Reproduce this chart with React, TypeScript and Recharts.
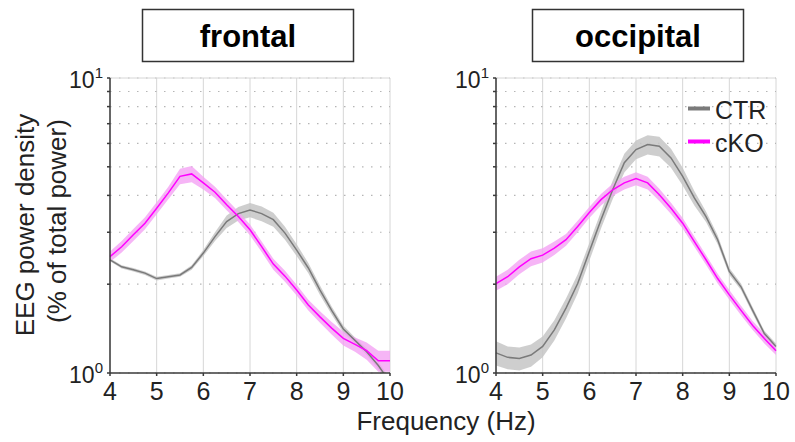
import React from 'react';
import { ComposedChart, Line, Area, XAxis, YAxis, CartesianGrid, ReferenceLine } from 'recharts';

const FREQ = [4, 4.25, 4.5, 4.75, 5, 5.25, 5.5, 5.75, 6, 6.25, 6.5, 6.75, 7, 7.25, 7.5, 7.75, 8, 8.25, 8.5, 8.75, 9, 9.25, 9.5, 9.75, 10];
const X_TICKS = [4, 5, 6, 7, 8, 9, 10];
const Y_TICKS = [1, 2, 3, 4, 5, 6, 7, 8, 9, 10];

const FRONTAL_CTR = [2.42, 2.29, 2.24, 2.18, 2.09, 2.12, 2.15, 2.28, 2.55, 2.9, 3.26, 3.47, 3.57, 3.47, 3.31, 2.98, 2.61, 2.27, 1.91, 1.63, 1.41, 1.29, 1.18, 1.06, 0.93];
const FRONTAL_CTR_SEM = [0.03, 0.03, 0.03, 0.03, 0.03, 0.03, 0.03, 0.04, 0.06, 0.1, 0.16, 0.18, 0.2, 0.2, 0.18, 0.15, 0.12, 0.09, 0.07, 0.05, 0.04, 0.03, 0.03, 0.03, 0.03];
const FRONTAL_CKO = [2.48, 2.68, 2.94, 3.22, 3.62, 4.08, 4.64, 4.73, 4.41, 4.1, 3.72, 3.39, 3.06, 2.68, 2.34, 2.13, 1.91, 1.7, 1.55, 1.42, 1.31, 1.25, 1.19, 1.1, 1.1];
const FRONTAL_CKO_SEM = [0.1, 0.12, 0.14, 0.15, 0.17, 0.2, 0.28, 0.3, 0.22, 0.18, 0.16, 0.14, 0.13, 0.11, 0.1, 0.09, 0.08, 0.07, 0.07, 0.07, 0.07, 0.07, 0.08, 0.09, 0.09];

const OCC_CTR = [1.17, 1.13, 1.12, 1.15, 1.23, 1.4, 1.66, 2.01, 2.58, 3.31, 4.18, 5.16, 5.72, 5.95, 5.87, 5.36, 4.64, 3.92, 3.39, 2.83, 2.21, 1.96, 1.63, 1.36, 1.23];
const OCC_CTR_SEM = [0.11, 0.1, 0.1, 0.1, 0.1, 0.11, 0.13, 0.15, 0.18, 0.22, 0.3, 0.38, 0.42, 0.45, 0.45, 0.4, 0.32, 0.22, 0.14, 0.1, 0.06, 0.05, 0.04, 0.03, 0.03];
const OCC_CKO = [2.01, 2.12, 2.29, 2.44, 2.51, 2.65, 2.83, 3.14, 3.5, 3.87, 4.18, 4.41, 4.56, 4.41, 4.02, 3.62, 3.22, 2.79, 2.42, 2.09, 1.84, 1.63, 1.45, 1.31, 1.19];
const OCC_CKO_SEM = [0.11, 0.12, 0.13, 0.14, 0.14, 0.14, 0.13, 0.14, 0.15, 0.17, 0.2, 0.22, 0.23, 0.22, 0.19, 0.16, 0.13, 0.11, 0.09, 0.08, 0.07, 0.06, 0.05, 0.05, 0.04];

const SERIES_NAMES = ['CTR', 'cKO'];
const PANEL_TITLES = ['frontal', 'occipital'];
const X_TITLE = 'Frequency (Hz)';
const Y_TITLE_1 = 'EEG power density';
const Y_TITLE_2 = '(% of total power)';

const FONT = '"Liberation Sans", Arial, Helvetica, sans-serif';
const CTR_COLOR = '#7a7a7a';
const CTR_BAND = '#c6c6c6';
const CKO_COLOR = '#ff00ff';
const CKO_BAND = '#f4a3f4';
const AXIS_COLOR = '#3a3a3a';
const TEXT_COLOR = '#222';

function buildRows(ctr: number[], ctrSem: number[], cko: number[], ckoSem: number[]) {
  return FREQ.map((f, i) => ({
    f,
    ctr: ctr[i],
    ctrBand: [ctr[i] - ctrSem[i], ctr[i] + ctrSem[i]],
    cko: cko[i],
    ckoBand: [cko[i] - ckoSem[i], cko[i] + ckoSem[i]],
  }));
}

const XTick = (props: any) => {
  const { x, y, payload } = props;
  return (
    <text x={x} y={y + 24} textAnchor="middle" fontSize={25} fontFamily={FONT} fill={TEXT_COLOR}>
      {payload.value}
    </text>
  );
};

const YTick = (props: any) => {
  const { x, y, payload } = props;
  const v = payload.value;
  if (v !== 1 && v !== 10) return <g />;
  const exp = v === 10 ? '1' : '0';
  return (
    <text x={x - 4} y={y + 10} textAnchor="end" fontSize={23} fontFamily={FONT} fill={TEXT_COLOR}>
      10
      <tspan fontSize={15} dy={-10}>{exp}</tspan>
    </text>
  );
};

function Panel({ rows, left, width, marginLeft, marginRight }: any) {
  return (
    <div style={{ position: 'absolute', left, top: 0 }}>
      <ComposedChart
        width={width}
        height={442}
        data={rows}
        margin={{ top: 78, right: marginRight, bottom: 39, left: marginLeft }}
      >
        <CartesianGrid horizontal={false} stroke="#d6d6d6" strokeWidth={1} />
        <CartesianGrid vertical={false} stroke="#b5b5b5" strokeDasharray="1.5 7.5" strokeWidth={1.2} />
        <ReferenceLine y={10} stroke="#d6d6d6" strokeWidth={1} />
        <XAxis
          dataKey="f"
          type="number"
          domain={[4, 10]}
          ticks={X_TICKS}
          interval={0}
          height={30}
          tickSize={3}
          tickMargin={0}
          stroke={AXIS_COLOR}
          strokeWidth={1.5}
          tick={XTick}
        />
        <YAxis
          type="number"
          scale="log"
          domain={[1, 10]}
          allowDataOverflow
          ticks={Y_TICKS}
          interval={0}
          width={50}
          tickSize={3}
          tickMargin={0}
          stroke={AXIS_COLOR}
          strokeWidth={1.5}
          tick={YTick}
        />
        <Area dataKey="ctrBand" stroke="none" fill={CTR_BAND} fillOpacity={0.85} isAnimationActive={false} type="linear" />
        <Area dataKey="ckoBand" stroke="none" fill={CKO_BAND} fillOpacity={0.8} isAnimationActive={false} type="linear" />
        <Line dataKey="ctr" name={SERIES_NAMES[0]} stroke={CTR_COLOR} strokeWidth={1.5} dot={false} isAnimationActive={false} type="linear" />
        <Line dataKey="cko" name={SERIES_NAMES[1]} stroke={CKO_COLOR} strokeWidth={1.5} dot={false} isAnimationActive={false} type="linear" />
      </ComposedChart>
    </div>
  );
}

export default function App() {
  const frontalRows = buildRows(FRONTAL_CTR, FRONTAL_CTR_SEM, FRONTAL_CKO, FRONTAL_CKO_SEM);
  const occRows = buildRows(OCC_CTR, OCC_CTR_SEM, OCC_CKO, OCC_CKO_SEM);
  return (
    <div style={{ position: 'absolute', left: 0, top: 0, width: 795, height: 442, background: '#fff', fontFamily: FONT }}>
      <Panel rows={frontalRows} left={0} width={440} marginLeft={60} marginRight={50} />
      <Panel rows={occRows} left={400} width={395} marginLeft={46} marginRight={19} />
      <svg width={795} height={442} style={{ position: 'absolute', left: 0, top: 0, pointerEvents: 'none' }}>
        <rect x={142.5} y={9.5} width={211} height={52} fill="none" stroke="#333" strokeWidth={1.5} />
        <text x={248} y={46.5} textAnchor="middle" fontSize={31} fontWeight="bold" fontFamily={FONT} fill="#000">
          {PANEL_TITLES[0]}
        </text>
        <rect x={532.5} y={9.5} width={211} height={52} fill="none" stroke="#333" strokeWidth={1.5} />
        <text x={638} y={46.5} textAnchor="middle" fontSize={31} fontWeight="bold" fontFamily={FONT} fill="#000">
          {PANEL_TITLES[1]}
        </text>
        <text transform="translate(34,225) rotate(-90)" textAnchor="middle" fontSize={26} fontFamily={FONT} fill={TEXT_COLOR}>
          {Y_TITLE_1}
        </text>
        <text transform="translate(66,221) rotate(-90)" textAnchor="middle" fontSize={26} fontFamily={FONT} fill={TEXT_COLOR}>
          {Y_TITLE_2}
        </text>
        <text x={446} y={430} textAnchor="middle" fontSize={26} fontFamily={FONT} fill={TEXT_COLOR}>
          {X_TITLE}
        </text>
        <line x1={688} x2={710} y1={108.5} y2={108.5} stroke={CTR_COLOR} strokeWidth={4} />
        <text x={715} y={118.5} fontSize={25} fontFamily={FONT} fill={TEXT_COLOR}>{SERIES_NAMES[0]}</text>
        <line x1={688} x2={710} y1={141.5} y2={141.5} stroke={CKO_COLOR} strokeWidth={4} />
        <text x={715} y={151.5} fontSize={25} fontFamily={FONT} fill={TEXT_COLOR}>{SERIES_NAMES[1]}</text>
      </svg>
    </div>
  );
}
